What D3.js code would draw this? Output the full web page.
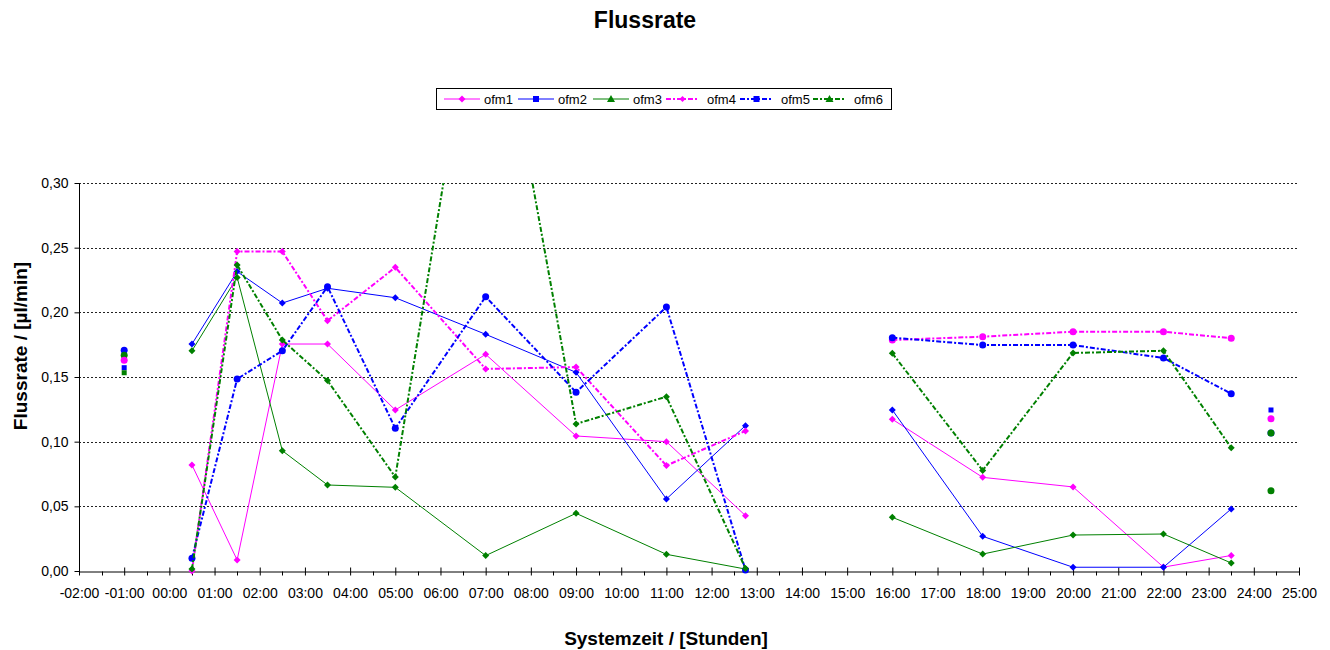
<!DOCTYPE html>
<html>
<head>
<meta charset="utf-8">
<script src="https://cdn.jsdelivr.net/npm/d3@7"></script>
<style>
  body { margin: 0; background: #fff; }
  svg { display: block; font-family: "Liberation Sans", Arial, sans-serif; }
</style>
</head>
<body>
<svg width="1330" height="650"></svg>
<script>
// measurement times (hours), two sessions with a gap between them
var times   = [0.5, 1.5, 2.5, 3.5, 5, 7, 9, 11, 12.75, 16, 18, 20, 22, 23.5];
var session = [1, 1, 1, 1, 1, 1, 1, 1, 1, 2, 2, 2, 2, 2];

var ofm1 = [0.082, 0.0085, 0.1755, 0.1755, 0.1245, 0.1675, 0.1044, 0.100, 0.0428, 0.1173, 0.0724, 0.065, 0.003, 0.012];
var ofm2 = [0.1755, 0.2315, 0.2072, 0.2186, 0.2113, 0.183, 0.1536, 0.0557, 0.1124, 0.1245, 0.0268, 0.0029, 0.0029, 0.048];
var ofm3 = [0.1703, 0.227, 0.093, 0.0665, 0.0647, 0.0119, 0.0446, 0.0129, 0.0015, 0.0415, 0.0131, 0.0278, 0.0286, 0.0062];
var ofm4 = [0.0, 0.247, 0.247, 0.1935, 0.2348, 0.1562, 0.1577, 0.0815, 0.1083, 0.1786, 0.1812, 0.185, 0.185, 0.180];
var ofm5 = [0.0098, 0.1485, 0.1703, 0.2198, 0.1103, 0.2121, 0.1382, 0.2041, 0.0008, 0.1804, 0.1747, 0.1747, 0.1647, 0.1371];
var ofm6 = [0.0015, 0.2366, 0.1786, 0.1472, 0.0727, 0.50, 0.1137, 0.1348, 0.002, 0.1683, 0.0778, 0.1686, 0.1703, 0.0953];

// single reference points (no line)
var extraTimes  = [-1, -1, -1, -1, -1, 24.38, 24.38, 24.38, 24.38, 24.38];
var extraValues = [0.1706, 0.1668, 0.163, 0.1572, 0.1533, 0.1245, 0.1178, 0.1067, 0.1067, 0.0621];
var extraColors = ["#0000ff", "#008000", "#ff00ff", "#0000ff", "#008000", "#0000ff", "#ff00ff", "#0000ff", "#008000", "#008000"];
var extraShapes = ["circle", "circle", "circle", "square", "square", "square", "circle", "circle", "circle", "circle"];

var yTicks = [0, 0.05, 0.10, 0.15, 0.20, 0.25, 0.30];

var series = [
  { name: "ofm1", values: ofm1, color: "#ff00ff", dash: null, width: 1, marker: "diamond", legendMarker: "diamond" },
  { name: "ofm2", values: ofm2, color: "#0000ff", dash: null, width: 1, marker: "diamond", legendMarker: "square" },
  { name: "ofm3", values: ofm3, color: "#008000", dash: null, width: 1, marker: "diamond", legendMarker: "triangle" },
  { name: "ofm4", values: ofm4, color: "#ff00ff", dash: "5,2,2,2", width: 2, marker: "diamond", marker2: "circle", legendMarker: "smalldiamond" },
  { name: "ofm5", values: ofm5, color: "#0000ff", dash: "5,2,2,2", width: 2, marker: "circle", legendMarker: "square" },
  { name: "ofm6", values: ofm6, color: "#008000", dash: "5,2,2,2", width: 2, marker: "diamond", legendMarker: "triangle" }
];

var svg = d3.select("svg"),
    margin = { top: 183, right: 31, bottom: 79, left: 79 },
    width = svg.attr("width") - margin.left - margin.right,
    height = svg.attr("height") - margin.top - margin.bottom;

var g = svg.append("g")
    .attr("transform", "translate(" + margin.left + "," + margin.top + ")");

var xScale = d3.scaleLinear().domain([-2, 25]).range([0, width]);
var yScale = d3.scaleLinear().domain([0, 0.30]).range([height, 0]);

function fmtHour(h) {
  var s = h < 0 ? "-" : "";
  return s + String(Math.abs(h)).padStart(2, "0") + ":00";
}

// grid lines
g.append("g").selectAll("line")
  .data(yTicks.filter(function(d) { return d > 0; }))
  .enter().append("line")
  .attr("x1", 0).attr("x2", width)
  .attr("y1", function(d) { return Math.round(yScale(d)) + 0.5; })
  .attr("y2", function(d) { return Math.round(yScale(d)) + 0.5; })
  .attr("stroke", "#222")
  .attr("stroke-dasharray", "2,2");

// y axis
var y_axis = d3.axisLeft(yScale)
  .tickValues(yTicks)
  .tickSize(5)
  .tickPadding(6)
  .tickFormat(function(d) { return d3.format(".2f")(d).replace(".", ","); });

var yg = g.append("g").attr("transform", "translate(0.5,0)").call(y_axis);
yg.select(".domain").attr("d", "M0," + height + "V0");
yg.selectAll("text").attr("font-size", 14).attr("font-family", "Liberation Sans, Arial, sans-serif").attr("fill", "#000");

// x axis: major ticks every hour, minor ticks on half hours
var hours = d3.range(-2, 26);
var x_axis = d3.axisBottom(xScale)
  .tickValues(hours)
  .tickSizeInner(4)
  .tickSizeOuter(0)
  .tickFormat(fmtHour);

var xg = g.append("g").attr("transform", "translate(0," + (height + 0.5) + ")").call(x_axis);
xg.selectAll(".tick line").attr("y1", -4).attr("y2", 4);
xg.selectAll("text")
  .attr("y", 26).attr("dy", null)
  .attr("font-size", 14).attr("font-family", "Liberation Sans, Arial, sans-serif").attr("fill", "#000");

xg.selectAll(".minor")
  .data(d3.range(-1.5, 25, 1))
  .enter().append("line")
  .attr("class", "minor")
  .attr("x1", function(d) { return Math.round(xScale(d)) + 0.5; })
  .attr("x2", function(d) { return Math.round(xScale(d)) + 0.5; })
  .attr("y1", 0).attr("y2", 4)
  .attr("stroke", "#000");

// clip the lines at the top of the plot area
svg.append("defs").append("clipPath").attr("id", "plotclip")
  .append("rect").attr("x", -5).attr("y", 0).attr("width", width + 10).attr("height", height + 20);

var plot = g.append("g").attr("clip-path", "url(#plotclip)");

var line = d3.line()
  .x(function(d) { return xScale(d.t); })
  .y(function(d) { return yScale(d.v); });

function drawMarker(sel, shape, color, x, y) {
  if (shape === "circle") {
    sel.append("circle").attr("cx", x).attr("cy", y).attr("r", 3.5).attr("fill", color);
  } else if (shape === "square") {
    sel.append("rect").attr("x", x - 3).attr("y", y - 3).attr("width", 6).attr("height", 6).attr("fill", color);
  } else if (shape === "triangle") {
    sel.append("path").attr("d", "M" + x + "," + (y - 4) + "L" + (x + 4) + "," + (y + 3) + "L" + (x - 4) + "," + (y + 3) + "Z").attr("fill", color);
  } else if (shape === "smalldiamond") {
    sel.append("path").attr("d", "M" + x + "," + (y - 3) + "L" + (x + 3) + "," + y + "L" + x + "," + (y + 3) + "L" + (x - 3) + "," + y + "Z").attr("fill", color);
  } else {
    sel.append("path").attr("d", "M" + x + "," + (y - 3.5) + "L" + (x + 3.5) + "," + y + "L" + x + "," + (y + 3.5) + "L" + (x - 3.5) + "," + y + "Z").attr("fill", color);
  }
}

series.forEach(function(s) {
  var pts = times.map(function(t, i) { return { t: t, v: s.values[i], sess: session[i] }; });
  [1, 2].forEach(function(k) {
    var run = pts.filter(function(p) { return p.sess === k; });
    plot.append("path")
      .datum(run)
      .attr("d", line)
      .attr("fill", "none")
      .attr("stroke", s.color)
      .attr("stroke-width", s.width)
      .attr("stroke-dasharray", s.dash);
  });
  var mg = plot.append("g");
  pts.forEach(function(p) {
    var shape = (p.sess === 2 && s.marker2) ? s.marker2 : s.marker;
    drawMarker(mg, shape, s.color, xScale(p.t), yScale(p.v));
  });
});

// single points
var eg = plot.append("g");
extraTimes.forEach(function(t, i) {
  if (extraShapes[i] === "square") {
    eg.append("rect")
      .attr("x", xScale(t) - 2.5).attr("y", yScale(extraValues[i]) - 2.5)
      .attr("width", 5).attr("height", 5).attr("fill", extraColors[i]);
  } else {
    eg.append("circle")
      .attr("cx", xScale(t)).attr("cy", yScale(extraValues[i]))
      .attr("r", 3.5).attr("fill", extraColors[i]);
  }
});

// titles
svg.append("text")
  .attr("x", 645).attr("y", 28)
  .attr("text-anchor", "middle")
  .attr("font-size", 23).attr("font-weight", "bold")
  .text("Flussrate");

svg.append("text")
  .attr("x", 666).attr("y", 645)
  .attr("text-anchor", "middle")
  .attr("font-size", 19).attr("font-weight", "bold")
  .text("Systemzeit / [Stunden]");

svg.append("text")
  .attr("transform", "translate(27,346) rotate(-90)")
  .attr("text-anchor", "middle")
  .attr("font-size", 19).attr("font-weight", "bold")
  .text("Flussrate / [µl/min]");

// legend
var legend = svg.append("g");
legend.append("rect")
  .attr("x", 436.5).attr("y", 88.5).attr("width", 455).attr("height", 21)
  .attr("fill", "#fff").attr("stroke", "#000");

var legendX = [444, 518, 593, 666, 740, 813];
series.forEach(function(s, i) {
  var x0 = legendX[i], x1 = x0 + (i < 3 ? 36 : 33);
  legend.append("line")
    .attr("x1", x0).attr("x2", x1).attr("y1", 99).attr("y2", 99)
    .attr("stroke", s.color).attr("stroke-width", s.width)
    .attr("stroke-dasharray", s.dash);
  drawMarker(legend, s.legendMarker, s.color, (x0 + x1) / 2, 99);
  legend.append("text")
    .attr("x", x1 + (i < 3 ? 4 : 8)).attr("y", 103.5)
    .attr("font-size", 13)
    .text(s.name);
});
</script>
</body>
</html>
